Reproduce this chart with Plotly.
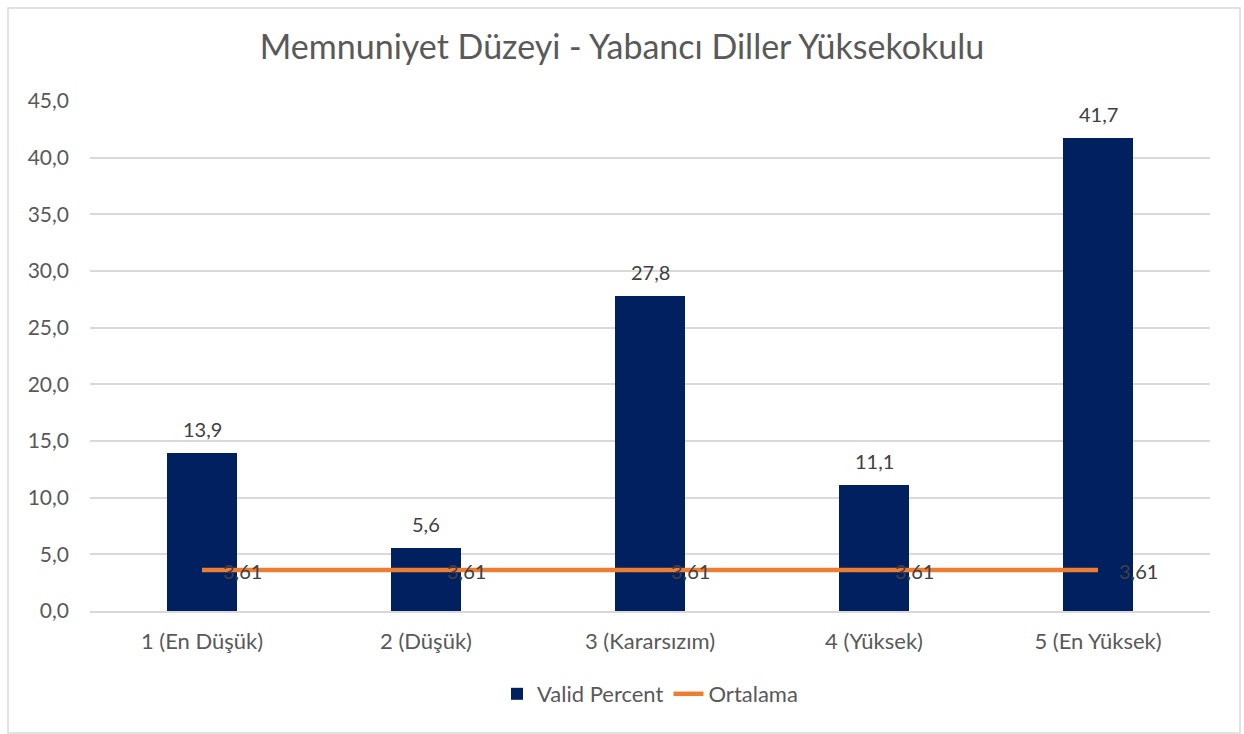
import plotly.graph_objects as go

categories = ["1 (En Düşük)", "2 (Düşük)", "3 (Kararsızım)", "4 (Yüksek)", "5 (En Yüksek)"]
valid_percent = [13.9, 5.6, 27.8, 11.1, 41.7]
ortalama = [3.61, 3.61, 3.61, 3.61, 3.61]
y_ticks = [0, 5, 10, 15, 20, 25, 30, 35, 40, 45]

W, H = 1244, 734
ml, mr, mt, mb = 90, 34, 101, 123
FONT = "Lato"

fig = go.Figure()
fig.add_trace(go.Bar(
    x=categories, y=valid_percent, name="Valid Percent",
    marker=dict(color="#002060", line=dict(width=0)),
    width=0.3125,
))
fig.add_trace(go.Scatter(
    x=categories, y=ortalama, name="Ortalama",
    mode="lines",
    line=dict(color="#ED7D31", width=4.5),
    cliponaxis=False,
))

annotations = []
for c, v in zip(categories, valid_percent):
    annotations.append(dict(
        x=c, y=v, xref="x", yref="y", text=f"{v:.1f}".replace(".", ","),
        showarrow=False, yanchor="bottom", yshift=10,
        font=dict(family=FONT, size=20, color="#404040"),
    ))
for c, v in zip(categories, ortalama):
    annotations.append(dict(
        x=c, y=v, xref="x", yref="y", text=f"{v:.2f}".replace(".", ","),
        showarrow=False, xanchor="left", yanchor="middle", xshift=19, yshift=-1,
        font=dict(family=FONT, size=20, color="#404040"),
    ))

pw = W - ml - mr
ph = H - mt - mb
x0 = (8 - ml) / pw
x1 = (1240 - ml) / pw
yb = -(733 - mt - ph) / ph
y1 = 1 + (mt - 8) / ph

fig.update_layout(
    width=W, height=H,
    margin=dict(l=ml, r=mr, t=mt, b=mb),
    paper_bgcolor="white", plot_bgcolor="white",
    separators=",.",
    font=dict(family=FONT, color="#595959", size=20),
    title=dict(text="Memnuniyet Düzeyi - Yabancı Diller Yüksekokulu",
               x=0.5, xanchor="center", y=1 - 47 / H, yanchor="middle",
               font=dict(family=FONT, size=34, color="#595959")),
    bargap=0,
    showlegend=True,
    legend=dict(orientation="h", x=0.5, xanchor="center", y=-(694 - mt - ph) / ph,
                yanchor="middle", font=dict(family=FONT, size=22, color="#595959"),
                traceorder="normal"),
    xaxis=dict(showgrid=False, showline=True, linecolor="#D9D9D9", linewidth=1.5,
               ticks="", ticklabelstandoff=10,
               tickfont=dict(family=FONT, size=22, color="#595959")),
    yaxis=dict(range=[0, 45], tickvals=y_ticks, tickformat=".1f",
               showgrid=True, gridcolor="#D9D9D9", gridwidth=1.5,
               zeroline=False, showline=False, ticks="", ticklabelstandoff=20,
               tickfont=dict(family=FONT, size=21, color="#595959")),
    annotations=annotations,
    shapes=[dict(type="rect", xref="paper", yref="paper",
                 x0=x0, x1=x1, y0=yb, y1=y1,
                 line=dict(color="#D9D9D9", width=1.5), fillcolor="rgba(0,0,0,0)",
                 layer="below")],
)

fig.write_html("out.html", config={"displayModeBar": False},
               post_script="document.body.style.margin='0';document.body.style.overflow='hidden';")
